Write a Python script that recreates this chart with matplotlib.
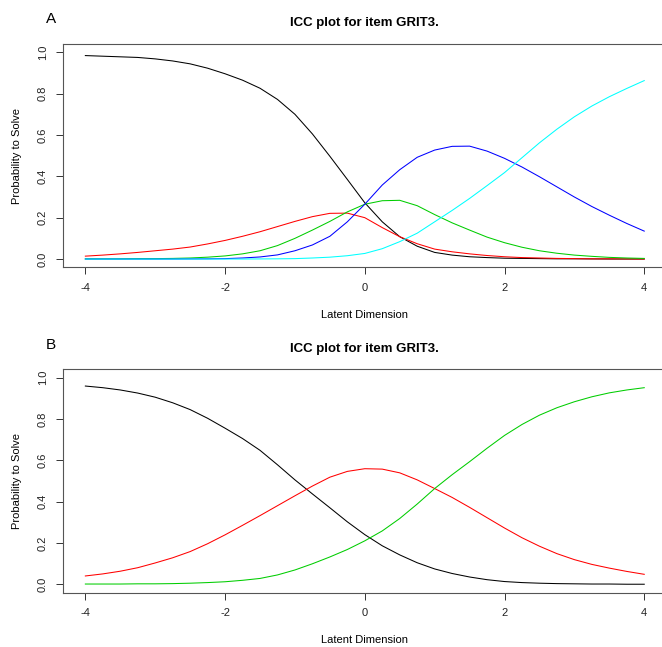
import matplotlib
matplotlib.use("Agg")
import matplotlib.pyplot as plt

plt.rcParams["font.family"] = ["Liberation Sans", "DejaVu Sans"]

# latent dimension grid (values read at every 0.25)
theta = [-4 + 0.25 * i for i in range(33)]

# panel A: five response categories
a_cat0 = [0.984, 0.981, 0.978, 0.975, 0.968, 0.958, 0.944, 0.923, 0.896, 0.865, 0.826, 0.772,
          0.700, 0.605, 0.497, 0.385, 0.272, 0.180, 0.108, 0.062, 0.032, 0.019, 0.011, 0.007,
          0.004, 0.003, 0.002, 0.001, 0.001, 0.0005, 0.0, 0.0, 0.0]
a_cat1 = [0.014, 0.019, 0.025, 0.032, 0.040, 0.048, 0.058, 0.073, 0.090, 0.110, 0.132, 0.157,
          0.182, 0.205, 0.221, 0.222, 0.200, 0.152, 0.108, 0.074, 0.048, 0.035, 0.025, 0.017,
          0.011, 0.007, 0.005, 0.003, 0.002, 0.001, 0.001, 0.0005, 0.0]
a_cat2 = [0.001, 0.001, 0.001, 0.002, 0.002, 0.003, 0.005, 0.009, 0.015, 0.025, 0.040, 0.065,
          0.100, 0.140, 0.182, 0.228, 0.265, 0.282, 0.284, 0.258, 0.215, 0.175, 0.140, 0.106,
          0.079, 0.057, 0.040, 0.028, 0.019, 0.013, 0.008, 0.005, 0.003]
a_cat3 = [0.0, 0.0, 0.0, 0.0, 0.0, 0.0, 0.0005, 0.001, 0.002, 0.005, 0.010, 0.020,
          0.040, 0.068, 0.110, 0.180, 0.265, 0.358, 0.432, 0.492, 0.527, 0.545, 0.546, 0.522,
          0.487, 0.445, 0.398, 0.349, 0.300, 0.254, 0.212, 0.172, 0.135]
a_cat4 = [0.0, 0.0, 0.0, 0.0, 0.0, 0.0, 0.0, 0.0, 0.0, 0.0, 0.0005, 0.001,
          0.002, 0.005, 0.009, 0.016, 0.027, 0.050, 0.084, 0.125, 0.180, 0.235, 0.293, 0.355,
          0.418, 0.490, 0.562, 0.628, 0.688, 0.740, 0.785, 0.825, 0.863]

# panel B: three response categories
b_cat0 = [0.959, 0.951, 0.940, 0.925, 0.905, 0.878, 0.845, 0.803, 0.755, 0.705, 0.648, 0.578,
          0.505, 0.437, 0.370, 0.302, 0.240, 0.186, 0.142, 0.104, 0.074, 0.052, 0.035, 0.022,
          0.013, 0.008, 0.005, 0.003, 0.002, 0.001, 0.001, 0.0, 0.0]
b_cat1 = [0.040, 0.050, 0.063, 0.080, 0.103, 0.128, 0.158, 0.196, 0.239, 0.285, 0.332, 0.380,
          0.428, 0.475, 0.518, 0.546, 0.559, 0.557, 0.539, 0.505, 0.463, 0.420, 0.372, 0.322,
          0.272, 0.225, 0.184, 0.148, 0.119, 0.096, 0.078, 0.062, 0.048]
b_cat2 = [0.001, 0.001, 0.001, 0.002, 0.002, 0.003, 0.005, 0.008, 0.012, 0.019, 0.028, 0.045,
          0.069, 0.099, 0.132, 0.168, 0.210, 0.258, 0.318, 0.388, 0.463, 0.530, 0.593, 0.658,
          0.720, 0.773, 0.818, 0.854, 0.883, 0.907, 0.926, 0.940, 0.951]

panel_a = [a_cat0, a_cat1, a_cat2, a_cat3, a_cat4]
panel_b = [b_cat0, b_cat1, b_cat2]
line_colors = ["black", "#FF0000", "#00CD00", "#0000FF", "#00FFFF"]

x_ticks = [-4, -2, 0, 2, 4]
y_ticks = [0.0, 0.2, 0.4, 0.6, 0.8, 1.0]
title = "ICC plot for item GRIT3."

W, H = 662, 647
fig = plt.figure(figsize=(W / 100, H / 100), dpi=100)


def make_axes(top_px, bottom_px):
    left_px, right_px = 63, 666.6
    return fig.add_axes([left_px / W, 1 - bottom_px / H,
                         (right_px - left_px) / W, (bottom_px - top_px) / H])


def draw_panel(ax, curves, letter):
    for vals, col in zip(curves, line_colors):
        ax.plot(theta, vals, color=col, lw=0.75)
    ax.set_xlim(-4.32, 4.32)
    ax.set_ylim(-0.04, 1.04)
    ax.set_xticks(x_ticks)
    ax.set_xticklabels([str(t) for t in x_ticks])
    ax.set_yticks(y_ticks)
    ax.set_yticklabels([f"{t:.1f}" for t in y_ticks], rotation=90, va="center")
    ax.tick_params(direction="out", length=5, width=0.7, colors="#333333",
                   labelsize=8, labelcolor="#222222", pad=6)
    for s in ax.spines.values():
        s.set_color("#555555")
        s.set_linewidth(0.8)
    ax.text(0.5, 1.093, title, transform=ax.transAxes, ha="center", va="center",
            fontsize=9.5, fontweight="bold")
    ax.text(0.5, -0.214, "Latent Dimension", transform=ax.transAxes,
            ha="center", va="center", fontsize=8)
    ax.text(-0.077, 0.5, "Probability to Solve", transform=ax.transAxes,
            ha="center", va="center", rotation=90, fontsize=8)
    ax.text(-0.02, 1.11, letter, transform=ax.transAxes, ha="center", va="center",
            fontsize=11)


ax_a = make_axes(44, 267.3)
draw_panel(ax_a, panel_a, "A")
ax_b = make_axes(369.3, 592.5)
draw_panel(ax_b, panel_b, "B")

fig.savefig("out.png", dpi=100)
